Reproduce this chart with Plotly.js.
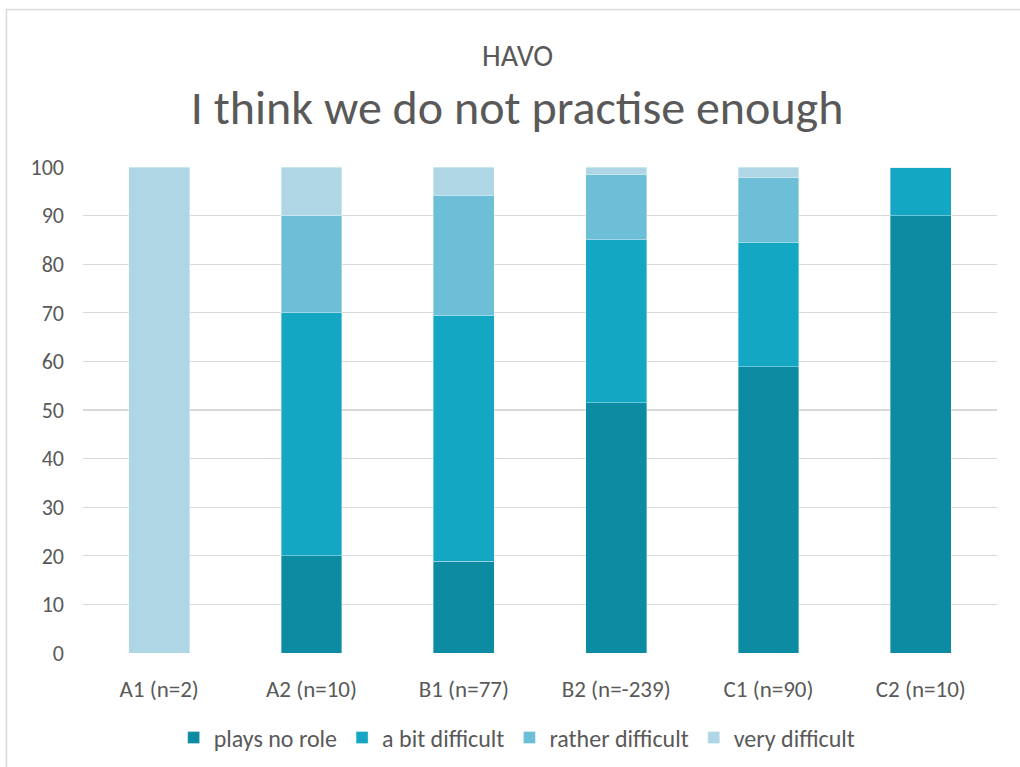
<!DOCTYPE html>
<html>
<head>
<meta charset="utf-8">
<script src="https://cdn.plot.ly/plotly-3.0.1.min.js"></script>
<style>
  html, body { margin: 0; padding: 0; background: #ffffff; }
  #chart { width: 1020px; height: 767px; }
</style>
</head>
<body>
<div id="chart"></div>
<script>
// Proficiency levels (with group sizes)
const levels = ['A1 (n=2)', 'A2 (n=10)', 'B1 (n=77)', 'B2 (n=-239)', 'C1 (n=90)', 'C2 (n=10)'];

// Share of answers per level, in percent
const playsNoRole      = [0,   20, 18.9, 51.5, 58.9, 90];
const aBitDifficult    = [0,   50, 50.6, 33.5, 25.6, 10];
const ratherDifficult  = [0,   20, 24.7, 13.4, 13.3, 0];
const veryDifficult    = [100, 10, 5.8,  1.6,  2.2,  0];

const seriesNames = ['plays no role', 'a bit difficult', 'rather difficult', 'very difficult'];
const seriesValues = [playsNoRole, aBitDifficult, ratherDifficult, veryDifficult];
const seriesColors = ['#0d8ba3', '#13a7c3', '#6cbfd7', '#aed6e5'];

const subtitleText = 'HAVO';
const titleText = 'I think we do not practise enough';

const fontFamily = 'Carlito, Lato, "Open Sans", sans-serif';
const textGrey = '#595959';

const traces = seriesNames.map((name, i) => ({
  type: 'bar',
  name: name,
  x: levels,
  y: seriesValues[i],
  marker: {
    color: seriesColors[i],
    line: { color: 'rgba(255,255,255,0.45)', width: 0.8 }
  },
  hoverinfo: 'x+y+name'
}));

const layout = {
  width: 1020,
  height: 767,
  barmode: 'stack',
  bargap: 0.6,
  paper_bgcolor: '#ffffff',
  plot_bgcolor: '#ffffff',
  margin: { l: 83, r: 23, t: 167, b: 114 },
  font: { family: fontFamily, color: textGrey, size: 22 },
  title: {
    text: titleText,
    x: 0.507,
    xanchor: 'center',
    xref: 'container',
    y: 0.8605,
    yref: 'container',
    yanchor: 'middle',
    font: { family: fontFamily, color: textGrey, size: 48 }
  },
  annotations: [
    {
      text: subtitleText,
      xref: 'paper',
      yref: 'paper',
      x: 0.475,
      y: 1.230,
      xanchor: 'center',
      yanchor: 'middle',
      showarrow: false,
      font: { family: fontFamily, color: textGrey, size: 30 }
    }
  ],
  xaxis: {
    type: 'category',
    showgrid: false,
    zeroline: false,
    showline: false,
    ticks: '',
    ticklabelstandoff: 20,
    automargin: false,
    tickfont: { size: 23, color: textGrey, family: fontFamily }
  },
  yaxis: {
    range: [0, 100],
    dtick: 10,
    showgrid: true,
    gridcolor: '#d9d9d9',
    gridwidth: 1.3,
    zeroline: false,
    showline: false,
    ticks: '',
    ticklabelstandoff: 18,
    tickfont: { size: 22, color: textGrey, family: fontFamily },
    automargin: false
  },
  legend: {
    orientation: 'h',
    x: 0.507,
    xref: 'container',
    xanchor: 'center',
    y: 0.0378,
    yref: 'container',
    yanchor: 'middle',
    traceorder: 'normal',
    itemwidth: 30,
    font: { size: 24, color: textGrey, family: fontFamily }
  },
  shapes: [
    {
      // chart area frame (left and top edges)
      type: 'path',
      xref: 'paper',
      yref: 'paper',
      path: 'M -0.0837 -0.5 L -0.0837 1.324 L 1.1 1.324',
      line: { color: '#d9d9d9', width: 1.5 }
    }
  ]
};

Plotly.newPlot('chart', traces, layout, { displayModeBar: false, staticPlot: true });
</script>
</body>
</html>
